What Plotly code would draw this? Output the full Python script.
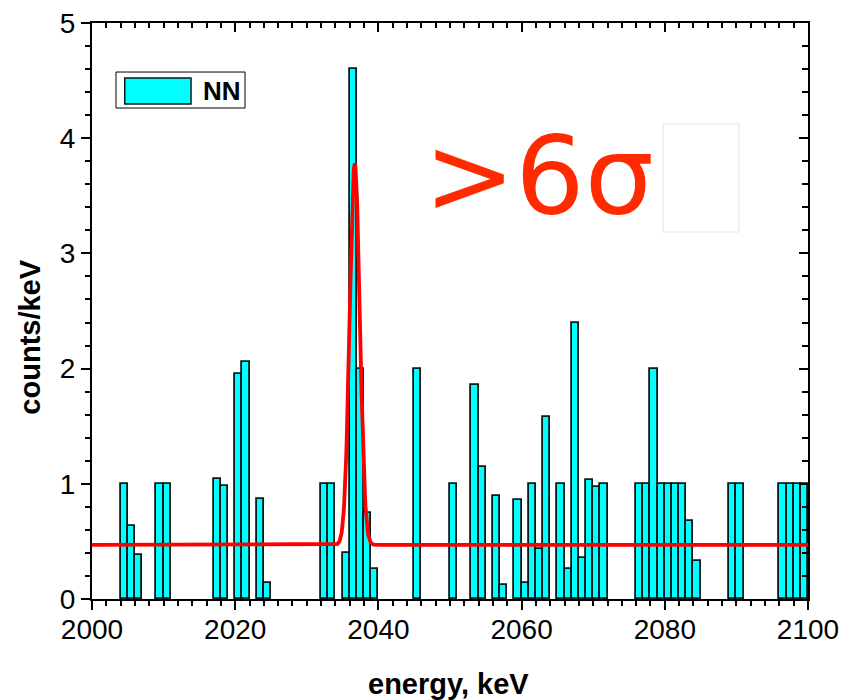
import numpy as np
import plotly.graph_objects as go

# Histogram: left edge of each 1 keV bin and its content (counts/keV)
bin_left = [2004, 2005, 2006, 2009, 2010, 2017, 2018, 2020, 2021, 2023, 2024,
            2032, 2033, 2035, 2036, 2037, 2038, 2039, 2045, 2050, 2053, 2054,
            2056, 2057, 2059, 2060, 2061, 2062, 2063, 2065, 2066, 2067, 2068,
            2069, 2070, 2071, 2076, 2077, 2078, 2079, 2080, 2081, 2082, 2083,
            2084, 2089, 2090, 2096, 2097, 2098, 2099]
counts = [1.00, 0.63, 0.38, 1.00, 1.00, 1.04, 0.98, 1.95, 2.06, 0.87, 0.14,
          1.00, 1.00, 0.40, 4.60, 2.00, 0.75, 0.26, 2.00, 1.00, 1.86, 1.15,
          0.89, 0.12, 0.86, 0.14, 1.00, 0.43, 1.58, 1.00, 0.26, 2.40, 0.36,
          1.03, 0.97, 1.00, 1.00, 1.00, 2.00, 1.00, 1.00, 1.00, 1.00, 0.68,
          0.33, 1.00, 1.00, 1.00, 1.00, 1.00, 1.00]
bin_width = 1.0

# Fit: flat background plus a Gaussian line
fit_background = 0.47
fit_amplitude = 3.31
fit_centre = 2036.7
fit_sigma = 0.70
fit_range = [2000, 2100]

x_ticks = [2000, 2020, 2040, 2060, 2080, 2100]
y_ticks = [0, 1, 2, 3, 4, 5]

e_fit = np.linspace(fit_range[0], fit_range[1], 2001)
y_fit = fit_background + fit_amplitude * np.exp(-0.5 * ((e_fit - fit_centre) / fit_sigma) ** 2)

tick_font = dict(family="Liberation Sans, Arial, sans-serif", size=28, color="black")
title_font = dict(family="Liberation Sans, Arial, sans-serif", size=29, color="black")

fig = go.Figure()
fig.add_trace(go.Bar(
    x=bin_left, y=counts, width=bin_width, offset=0,
    marker=dict(color="#00ffff", line=dict(color="#0a1a1a", width=1.8)),
    name="NN", showlegend=False,
))
fig.add_trace(go.Scatter(
    x=e_fit, y=y_fit, mode="lines",
    line=dict(color="#ff0000", width=3.8), showlegend=False, hoverinfo="skip",
))
# empty trace that carries the mirrored top/right axes
fig.add_trace(go.Scatter(x=[fit_range[0]], y=[0], xaxis="x2", yaxis="y2",
                         mode="markers", marker=dict(opacity=0), showlegend=False,
                         hoverinfo="skip"))

axis_common = dict(showgrid=False, zeroline=False, showline=True,
                   linecolor="black", linewidth=2, automargin=False)

fig.update_layout(
    width=843, height=700,
    margin=dict(l=92, r=35, t=23, b=101),
    paper_bgcolor="white", plot_bgcolor="white",
    bargap=0,
    xaxis=dict(range=fit_range, tickvals=x_ticks, ticks="outside", ticklen=9,
               tickwidth=2, tickcolor="black", tickfont=tick_font,
               ticklabelstandoff=-5,
               minor=dict(dtick=2, ticks="outside", ticklen=5, tickwidth=1.5, tickcolor="black"),
               **axis_common),
    yaxis=dict(range=[0, 5], tickvals=y_ticks, ticks="outside", ticklen=9,
               tickwidth=2, tickcolor="black", tickfont=tick_font,
               minor=dict(dtick=0.2, ticks="outside", ticklen=5, tickwidth=1.5, tickcolor="black"),
               **axis_common),
    xaxis2=dict(range=fit_range, overlaying="x", side="top", tickvals=x_ticks,
                ticks="inside", ticklen=9, tickwidth=2, tickcolor="black",
                showticklabels=False,
                minor=dict(dtick=2, ticks="inside", ticklen=5, tickwidth=1.5, tickcolor="black"),
                **axis_common),
    yaxis2=dict(range=[0, 5], overlaying="y", side="right", tickvals=y_ticks,
                ticks="inside", ticklen=9, tickwidth=2, tickcolor="black",
                showticklabels=False,
                minor=dict(dtick=0.2, ticks="inside", ticklen=6, tickwidth=1.5, tickcolor="black"),
                **axis_common),
)

# axis titles
fig.add_annotation(xref="paper", yref="paper", x=0.498, y=-0.147,
                   xanchor="center", yanchor="middle", showarrow=False,
                   text="<b>energy, keV</b>", font=title_font)
fig.add_annotation(xref="paper", yref="paper", x=-0.087, y=0.455,
                   xanchor="center", yanchor="middle", showarrow=False, textangle=-90,
                   text="<b>counts/keV</b>", font=title_font)

# legend box drawn by hand
fig.add_shape(type="rect", xref="paper", yref="paper",
              x0=0.0335, x1=0.2137, y0=0.8524, y1=0.9149,
              line=dict(color="black", width=1), fillcolor="white", layer="above")
fig.add_shape(type="rect", xref="paper", yref="paper",
              x0=0.0457, x1=0.1383, y0=0.8594, y1=0.9045,
              line=dict(color="#0a1a1a", width=1.5), fillcolor="#00ffff", layer="above")
fig.add_annotation(xref="paper", yref="paper", x=0.1525, y=0.882,
                   xanchor="left", yanchor="middle", showarrow=False,
                   text="<b>NN</b>",
                   font=dict(family="Liberation Sans, Arial, sans-serif", size=26, color="black"))

# significance label
fig.add_annotation(xref="paper", yref="paper", x=0.461, y=0.735,
                   xanchor="left", yanchor="middle", showarrow=False,
                   text=">6σ",
                   font=dict(family="DejaVu Sans", size=109, color="#ff2a00"))
fig.add_shape(type="rect", xref="paper", yref="paper",
              x0=0.7975, x1=0.9036, y0=0.6372, y1=0.8247,
              line=dict(color="#e2e2e2", width=1), fillcolor="white", layer="above")

fig.write_html("out.html")
